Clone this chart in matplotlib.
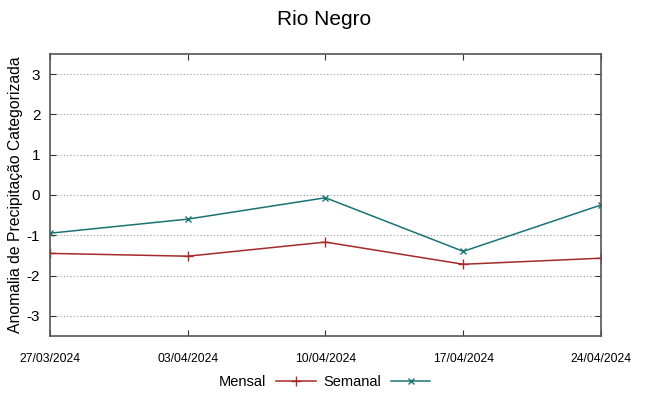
import matplotlib
matplotlib.use('Agg')
import matplotlib.pyplot as plt
from matplotlib import font_manager

# data
datas = ['27/03/2024', '03/04/2024', '10/04/2024', '17/04/2024', '24/04/2024']
mensal = [-1.45, -1.52, -1.17, -1.72, -1.57]
semanal = [-0.95, -0.60, -0.07, -1.40, -0.25]
yticks = [-3, -2, -1, 0, 1, 2, 3]

installed = {f.name for f in font_manager.fontManager.ttflist}
narrow = 'Liberation Sans Narrow' if 'Liberation Sans Narrow' in installed else 'Liberation Sans'
plt.rcParams['font.family'] = ['Liberation Sans', 'DejaVu Sans']

fig = plt.figure(figsize=(6.49, 3.96), dpi=100)
ax = fig.add_axes([0.077, 0.1515, 0.849, 0.7125])

x = list(range(len(datas)))
ax.plot(x, mensal, color='#a52a2a', lw=1.1, marker='+', ms=7, mew=1.0, label='Mensal')
ax.plot(x, semanal, color='#1b7373', lw=1.1, marker='x', ms=5, mew=1.0, label='Semanal')

ax.set_xlim(0, len(datas) - 1)
ax.set_ylim(-3.5, 3.5)
ax.set_xticks(x)
ax.set_xticklabels(datas, family=[narrow, 'DejaVu Sans'], fontsize=8.7)
ax.set_yticks(yticks)
ax.set_yticklabels([str(v) for v in yticks], fontsize=11)
ax.tick_params(direction='in', length=4, color='#333333', top=True, right=True, pad=7)
ax.tick_params(axis='x', pad=12)
ax.grid(axis='y', color='#999999', ls=(0, (1, 2)), lw=0.8)
for s in ax.spines.values():
    s.set_color('#555555')
    s.set_linewidth(1.2)

ax.set_ylabel('Anomalia de Precipitação Categorizada', fontsize=11.3, labelpad=3)
fig.suptitle('Rio Negro', family=[narrow, 'DejaVu Sans'], fontsize=15, y=0.975)

fig.legend(loc='center', bbox_to_anchor=(0.5, 0.035), ncol=2, frameon=False,
           markerfirst=False, handlelength=2.7, columnspacing=0.5, handletextpad=0.7,
           prop={'family': [narrow, 'DejaVu Sans'], 'size': 10.5})

fig.savefig('out.png', dpi=100)
